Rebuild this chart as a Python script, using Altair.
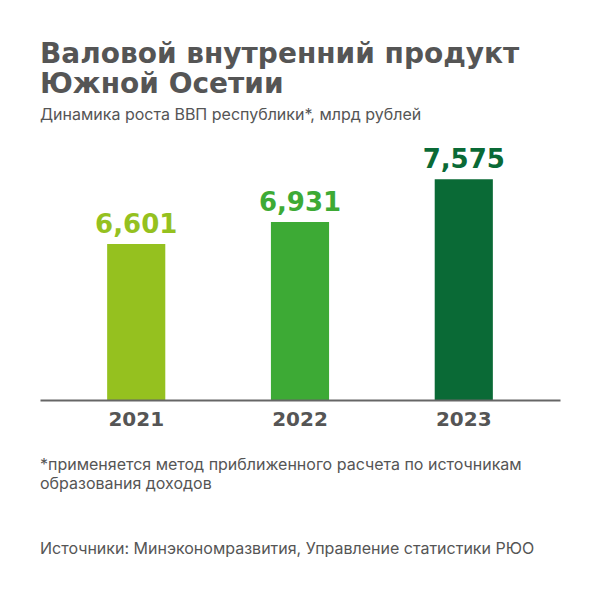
import altair as alt
import pandas as pd

years = ["2021", "2022", "2023"]
values = [6.601, 6.931, 7.575]
value_labels = ["6,601", "6,931", "7,575"]
bar_colors = ["#95C11F", "#3DAA35", "#0A6A36"]

title_lines = ["Валовой внутренний продукт", "Южной Осетии"]
subtitle = "Динамика роста ВВП республики*, млрд рублей"
footnote_lines = ["*применяется метод приближенного расчета по источникам",
                  "образования доходов"]
source = "Источники: Минэкономразвития, Управление статистики РЮО"

TEXT = "#555555"
BOLD_FONT = "DejaVu Sans"
REG_FONT = "Inter"

df = pd.DataFrame({"year": years, "value": values, "label": value_labels})

base = alt.Chart(df).encode(
    x=alt.X("year:N", sort=years,
            scale=alt.Scale(paddingInner=0.645, paddingOuter=0.41),
            axis=alt.Axis(title=None, labelFont=BOLD_FONT, labelFontWeight="bold",
                          labelFontSize=20, labelColor=TEXT, labelPadding=9,
                          labelAngle=0, ticks=False, domainColor="#666666",
                          domainWidth=2, grid=False, zindex=1)),
    y=alt.Y("value:Q", scale=alt.Scale(domain=[4.25, 8], zero=False, nice=False),
            axis=None),
    color=alt.Color("year:N", scale=alt.Scale(domain=years, range=bar_colors),
                    legend=None),
)

bars = base.mark_bar(clip=True)
labels = base.mark_text(dy=-11, baseline="alphabetic", font=BOLD_FONT,
                        fontWeight="bold", fontSize=26).encode(text="label:N")


def text_line(t, y, size, weight="normal", font=REG_FONT):
    return alt.Chart(pd.DataFrame({"t": [t]})).mark_text(
        align="left", baseline="alphabetic", font=font, fontSize=size,
        fontWeight=weight, color=TEXT
    ).encode(x=alt.value(0), y=alt.value(y), text="t:N")


texts = [
    text_line(title_lines[0], -88, 28, "bold", BOLD_FONT),
    text_line(title_lines[1], -58, 28, "bold", BOLD_FONT),
    text_line(subtitle, -31, 16),
    text_line(footnote_lines[0], 319, 16),
    text_line(footnote_lines[1], 338, 16),
    text_line(source, 403, 16),
]

chart = alt.layer(bars, labels, *texts).properties(
    width=520, height=249,
    padding={"left": 40, "top": 151, "right": 40, "bottom": 200},
    autosize=alt.AutoSizeParams(type="none"),
    background="white",
).configure_view(stroke=None)

chart.save("out.html", embed_options={"renderer": "svg", "actions": False})
